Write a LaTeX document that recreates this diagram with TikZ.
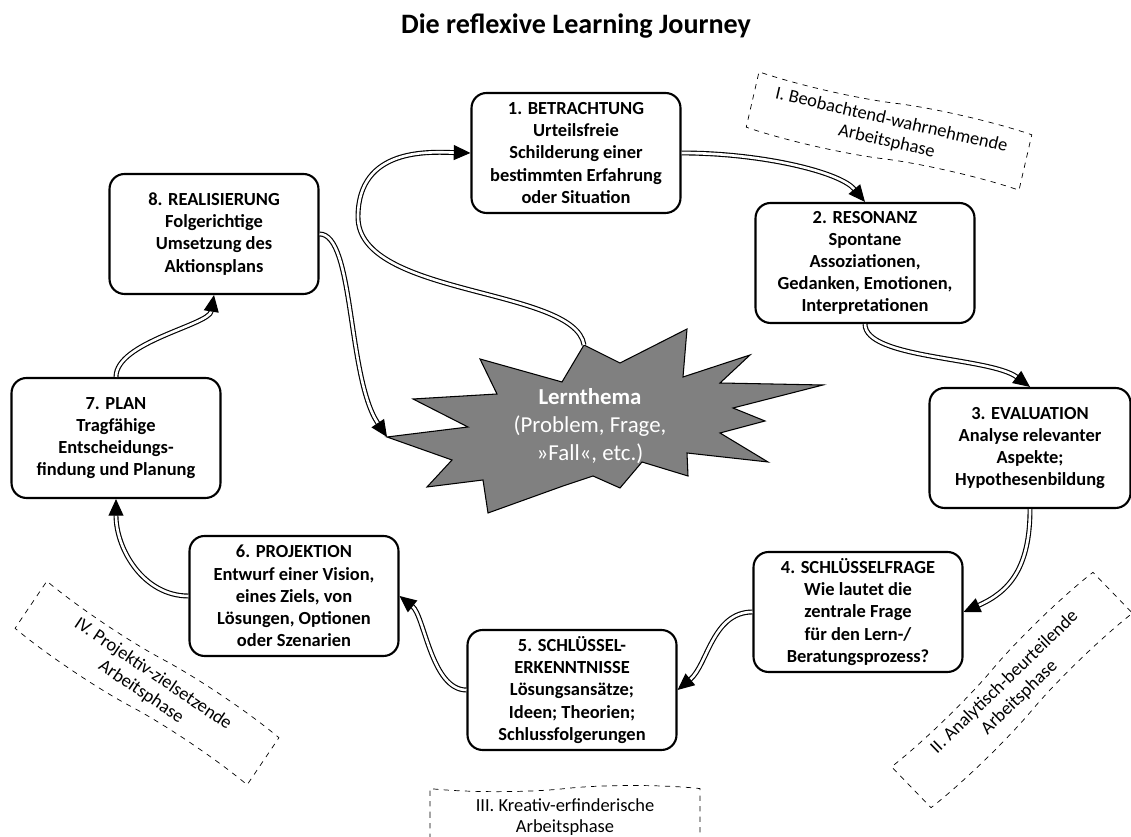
\documentclass[tikz,border=0pt]{standalone}
\usepackage{fontspec}
\setmainfont{Carlito}
\usetikzlibrary{arrows.meta}
\usetikzlibrary{shapes.symbols}

\begin{document}
    \begin{tikzpicture}[x=0.02cm, y=0.02cm,
        stage/.style={draw, line width=1.2pt, rounded corners=0.3cm, align=center,
            minimum width=4.18cm, minimum height=2.4cm, inner sep=2pt,
            font=\bfseries\fontsize{10.5}{12.6}\selectfont},
        phase/.style={tape, draw, dashed, align=center, minimum width=5.6cm,
            minimum height=1.26cm, inner sep=1pt, tape bend height=3.5pt,
            font=\fontsize{10.5}{12.2}\selectfont},
        flow/.style={double, double distance=1.5pt, line width=0.65pt,
            -{Triangle[length=9.5pt, width=8.5pt]}}]
        \useasboundingbox (0, 0) rectangle (1131, 837);

        \coordinate (Tip) at (387, 400);
        \coordinate (Top) at (584, 492);

        \node (title) at (576, 811) {\bfseries\fontsize{16}{19}\selectfont Die reflexive Learning Journey};

        \draw[fill=black!50, line width=0.6pt] (Tip) -- (468, 410) -- (413, 438) -- (497, 443)
            -- (480, 478) -- (562, 455) -- (Top) -- (620, 474) -- (687, 508) -- (683, 460)
            -- (750, 482) -- (720, 454) -- (823, 452) -- (733, 429) -- (765, 416) -- (720, 404)
            -- (768, 375) -- (687, 384) -- (688, 361) -- (642, 375) -- (620, 349) -- (593, 361)
            -- (563, 351) -- (488, 324) -- (483, 357) -- (427, 350) -- (452, 377) -- cycle;
        \node[text=white, align=center, font=\fontsize{13}{16}\selectfont] (lern) at (590, 411)
            {\textbf{Lernthema}\\(Problem, Frage,\\»Fall«, etc.)};

        \node[stage] (b1) at (576, 684) {1. BETRACHTUNG\\Urteilsfreie\\Schilderung einer\\bestimmten Erfahrung\\oder Situation};
        \node[stage, minimum width=4.38cm] (b2) at (865, 574) {2. RESONANZ\\Spontane\\Assoziationen,\\Gedanken, Emotionen,\\Interpretationen};
        \node[stage, minimum width=4.02cm] (b3) at (1030, 389) {3. EVALUATION\\Analyse relevanter\\Aspekte;\\Hypothesenbildung};
        \node[stage] (b4) at (858, 225) {4. SCHLÜSSELFRAGE\\Wie lautet die\\zentrale Frage\\für den Lern-/\\Beratungsprozess?};
        \node[stage] (b5) at (572, 147) {5. SCHLÜSSEL-\\ERKENNTNISSE\\Lösungsansätze;\\Ideen; Theorien;\\Schlussfolgerungen};
        \node[stage] (b6) at (294, 241) {6. PROJEKTION\\Entwurf einer Vision,\\eines Ziels, von\\Lösungen, Optionen\\oder Szenarien};
        \node[stage] (b7) at (116, 399) {7. PLAN\\Tragfähige\\Entscheidungs-\\findung und Planung};
        \node[stage] (b8) at (214, 603) {8. REALISIERUNG\\Folgerichtige\\Umsetzung des\\Aktionsplans};

        \node[phase, rotate=-13] (p1) at (889, 706) {I. Beobachtend-wahrnehmende\\Arbeitsphase};
        \node[phase, rotate=44] (p2) at (1012, 147) {II. Analytisch-beurteilende\\Arbeitsphase};
        \node[phase, minimum width=5.4cm] (p3) at (565, 20) {III. Kreativ-erfinderische\\Arbeitsphase};
        \node[phase, rotate=-34] (p4) at (147, 154) {IV. Projektiv-zielsetzende\\Arbeitsphase};

        \draw[flow] (b1.east) .. controls +(80, 0) and +(-25, 30) .. (b2.north);
        \draw[flow] (b2.south) .. controls +(0, -35) and +(-40, 30) .. (b3.north);
        \draw[flow] (b3.south) .. controls +(0, -60) and +(45, 20) .. (b4.east);
        \draw[flow] (b4.west) .. controls +(-40, 0) and +(30, 25) .. (b5.east);
        \draw[flow] (b5.west) .. controls +(-35, 0) and +(25, -20) .. (b6.east);
        \draw[flow] (b6.west) .. controls +(-45, 0) and +(0, -50) .. (b7.south);
        \draw[flow] (b7.north) .. controls +(0, 35) and +(-5, -30) .. (b8.south);
        \draw[flow] (b8.east) .. controls +(35, 0) and +(-40, 60) .. (Tip);
        \draw[flow] (Top) .. controls (575, 550) and (358, 540) .. (358, 620)
            .. controls (358, 690) and (430, 685) .. (b1.west);
    \end{tikzpicture}
\end{document}
